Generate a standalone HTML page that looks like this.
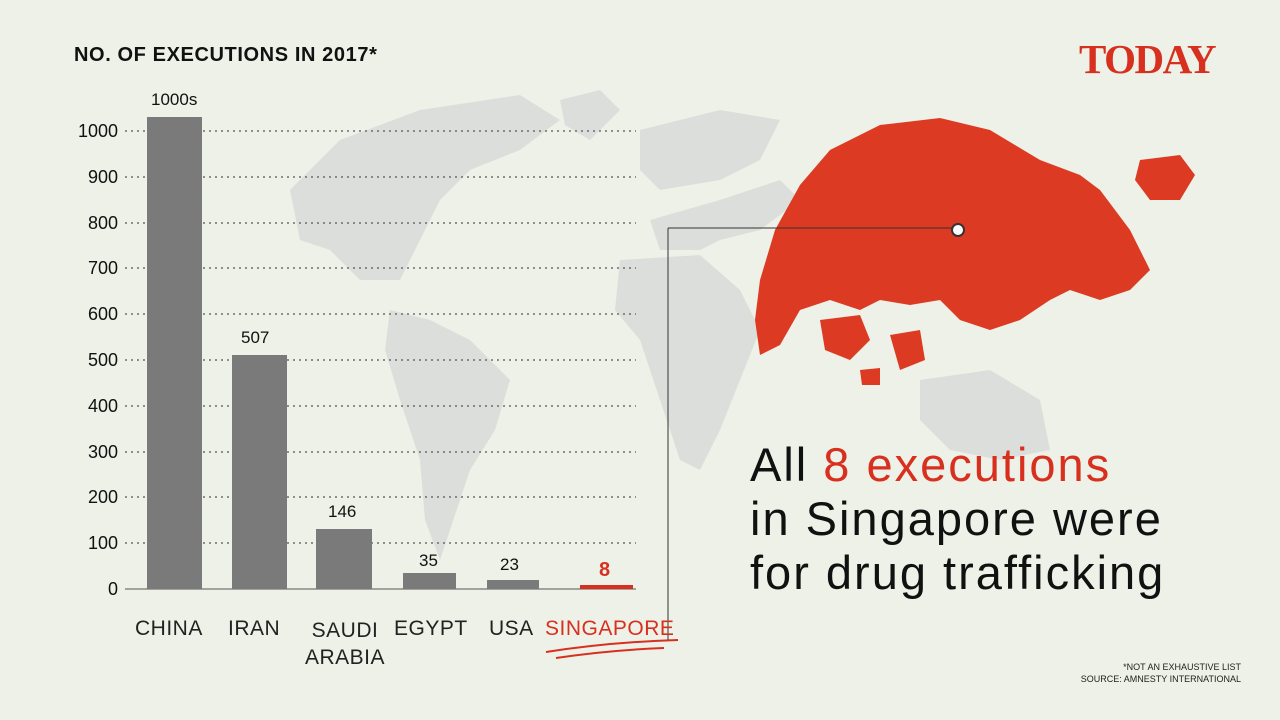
<!DOCTYPE html>
<html><head><meta charset="utf-8"><style>
body{margin:0;width:1280px;height:720px;background:#eef1e7;overflow:hidden;font-family:"Liberation Sans",sans-serif;position:relative}
.t{position:absolute;white-space:nowrap}
</style></head><body>
<svg width="1280" height="720" style="position:absolute;left:0;top:0">
<g fill="#dcdedb">
<path d="M290 190 L340 140 L420 110 L520 95 L560 120 L520 150 L470 170 L440 200 L420 240 L400 280 L360 280 L330 250 L300 240 Z"/>
<path d="M560 100 L600 90 L620 110 L590 140 L565 125 Z"/>
<path d="M390 310 L430 320 L470 340 L510 380 L495 430 L470 470 L450 530 L440 560 L425 520 L420 460 L400 400 L385 350 Z"/>
<path d="M650 220 L720 200 L780 180 L800 200 L760 230 L720 240 L700 250 L660 250 Z"/>
<path d="M620 260 L700 255 L740 290 L760 330 L740 380 L720 430 L700 470 L680 460 L660 400 L640 340 L615 310 Z"/>
<path d="M640 130 L720 110 L780 120 L760 160 L720 180 L660 190 L640 170 Z"/>
<path d="M920 380 L990 370 L1040 400 L1050 450 L1000 460 L950 450 L920 420 Z"/>
</g>
<g stroke="#555" stroke-width="1.3" stroke-dasharray="2,4">
<line x1="125" x2="636" y1="131" y2="131"/><line x1="125" x2="636" y1="177" y2="177"/>
<line x1="125" x2="636" y1="223" y2="223"/><line x1="125" x2="636" y1="268" y2="268"/>
<line x1="125" x2="636" y1="314" y2="314"/><line x1="125" x2="636" y1="360" y2="360"/>
<line x1="125" x2="636" y1="406" y2="406"/><line x1="125" x2="636" y1="452" y2="452"/>
<line x1="125" x2="636" y1="497" y2="497"/><line x1="125" x2="636" y1="543" y2="543"/>
</g>
<line x1="125" x2="636" y1="589" y2="589" stroke="#555" stroke-width="1"/>
<g fill="#7a7a7a">
<rect x="147" y="117" width="55" height="472"/>
<rect x="232" y="355" width="55" height="234"/>
<rect x="316" y="529" width="56" height="60"/>
<rect x="403" y="573" width="53" height="16"/>
<rect x="487" y="580" width="52" height="9"/>
</g>
<rect x="580" y="585" width="53" height="4" fill="#d8301f"/>
<path d="M546 652 Q610 642 678 640 M556 658 Q610 650 664 648" stroke="#d8301f" stroke-width="2" fill="none"/>
<path fill="#dc3a22" d="M775 230 L800 185 L830 150 L880 125 L940 118 L990 130 L1040 160 L1080 175 L1100 190 L1130 230 L1150 270 L1130 290 L1100 300 L1070 290 L1050 300 L1020 320 L990 330 L960 320 L940 300 L910 305 L880 300 L860 310 L830 300 L800 310 L780 345 L760 355 L755 320 L760 280 Z"/>
<path fill="#dc3a22" d="M1140 160 L1180 155 L1195 175 L1180 200 L1150 200 L1135 180 Z"/>
<path fill="#dc3a22" d="M820 320 L860 315 L870 340 L850 360 L825 350 Z M890 335 L920 330 L925 360 L900 370 Z M860 370 L880 368 L880 385 L862 385 Z"/>
<line x1="668" y1="228" x2="958" y2="228" stroke="#333" stroke-width="1"/>
<line x1="668" y1="228" x2="668" y2="640" stroke="#333" stroke-width="1"/>
<circle cx="958" cy="230" r="6" fill="#fff" stroke="#333" stroke-width="2"/>
</svg>
<div class="t" style="left:74px;top:44px;font-size:20px;font-weight:bold;color:#111;letter-spacing:0.6px">NO. OF EXECUTIONS IN 2017*</div>
<div class="t" style="left:1079px;top:35px;font-family:'Liberation Serif',serif;font-size:41px;font-weight:bold;color:#d8301f;letter-spacing:-1.5px">TODAY</div>
<div style="position:absolute;left:40px;top:120px;width:78px;text-align:right;font-size:18px;color:#111;line-height:1">
<div style="position:absolute;right:0;top:2px">1000</div><div style="position:absolute;right:0;top:48px">900</div>
<div style="position:absolute;right:0;top:94px">800</div><div style="position:absolute;right:0;top:139px">700</div>
<div style="position:absolute;right:0;top:185px">600</div><div style="position:absolute;right:0;top:231px">500</div>
<div style="position:absolute;right:0;top:277px">400</div><div style="position:absolute;right:0;top:323px">300</div>
<div style="position:absolute;right:0;top:368px">200</div><div style="position:absolute;right:0;top:414px">100</div>
<div style="position:absolute;right:0;top:460px">0</div></div>
<div class="t" style="left:151px;top:90px;font-size:17px;color:#111">1000s</div>
<div class="t" style="left:241px;top:328px;font-size:17px;color:#111">507</div>
<div class="t" style="left:328px;top:502px;font-size:17px;color:#111">146</div>
<div class="t" style="left:419px;top:551px;font-size:17px;color:#111">35</div>
<div class="t" style="left:500px;top:555px;font-size:17px;color:#111">23</div>
<div class="t" style="left:599px;top:559px;font-size:20px;font-weight:bold;color:#d8301f">8</div>
<div class="t" style="left:135px;top:617px;font-size:21px;color:#222;letter-spacing:0.5px">CHINA</div>
<div class="t" style="left:228px;top:617px;font-size:21px;color:#222;letter-spacing:0.5px">IRAN</div>
<div class="t" style="left:305px;top:617px;font-size:21px;color:#222;text-align:center;line-height:27px;letter-spacing:0.5px">SAUDI<br>ARABIA</div>
<div class="t" style="left:394px;top:617px;font-size:21px;color:#222;letter-spacing:0.5px">EGYPT</div>
<div class="t" style="left:489px;top:617px;font-size:21px;color:#222;letter-spacing:0.5px">USA</div>
<div class="t" style="left:545px;top:617px;font-size:21px;color:#d8301f;letter-spacing:0.5px">SINGAPORE</div>
<div class="t" style="left:750px;top:438px;font-size:47px;color:#111;line-height:54px;letter-spacing:2px">All <span style="color:#d8301f">8 executions</span><br>in Singapore were<br>for drug trafficking</div>
<div class="t" style="left:1060px;top:661px;width:181px;text-align:right;font-size:9px;color:#222;line-height:12px">*NOT AN EXHAUSTIVE LIST<br>SOURCE: AMNESTY INTERNATIONAL</div>
</body></html>
